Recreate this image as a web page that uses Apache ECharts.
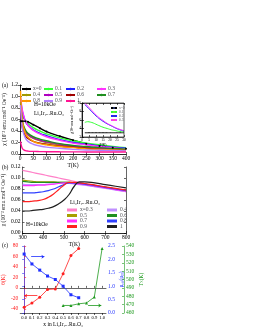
<!DOCTYPE html>
<html><head><meta charset="utf-8">
<script src="https://cdn.jsdelivr.net/npm/echarts@6/dist/echarts.min.js"></script>
<style>html,body{margin:0;padding:0;background:#fff}#c{width:255px;height:330px}</style>
</head><body><div id="c"></div>
<script>
// ---------- Panel (a): chi vs T (0-400 K) ----------
const tA = [2,5,10,20,30,50,75,100,150,200,250,300,350,400];
const chiA_00 = [0.57,0.57,0.57,0.57,0.56,0.51,0.45,0.39,0.31,0.24,0.18,0.14,0.11,0.09];
const chiA_01 = [0.72,0.70,0.66,0.58,0.53,0.46,0.40,0.35,0.28,0.23,0.19,0.16,0.13,0.11];
const chiA_02 = [0.95,0.85,0.72,0.57,0.50,0.42,0.36,0.32,0.25,0.20,0.17,0.14,0.12,0.10];
const chiA_03 = [0.98,0.88,0.74,0.58,0.50,0.41,0.35,0.30,0.24,0.19,0.16,0.13,0.11,0.09];
const chiA_04 = [0.80,0.65,0.50,0.38,0.33,0.27,0.23,0.20,0.16,0.13,0.11,0.095,0.08,0.07];
const chiA_05 = [0.85,0.68,0.52,0.40,0.34,0.28,0.24,0.21,0.17,0.14,0.12,0.10,0.085,0.075];
const chiA_06 = [0.75,0.58,0.43,0.32,0.27,0.22,0.19,0.17,0.14,0.12,0.10,0.085,0.075,0.065];
const chiA_07 = [0.90,0.72,0.55,0.42,0.36,0.30,0.26,0.23,0.18,0.15,0.13,0.11,0.095,0.085];
const chiA_08 = [1.10,0.80,0.55,0.36,0.29,0.22,0.18,0.16,0.13,0.11,0.09,0.08,0.07,0.06];
const chiA_09 = [0.85,0.62,0.42,0.28,0.22,0.17,0.14,0.12,0.10,0.08,0.07,0.065,0.06,0.055];
const chiA_10 = [0.22,0.15,0.09,0.06,0.05,0.045,0.042,0.04,0.038,0.037,0.036,0.035,0.035,0.035];
const namesA = ['x=0','0.1','0.2','0.3','0.4','0.5','0.6','0.7','0.8','0.9','1'];

// inset of (a)
const tIn = [2,4,6,8,10,12,15,18,21,24,27,30];
const inset_00 = [3.0,3.0,3.0,3.0,3.0,3.0,3.0,3.0,3.0,3.0,3.0,3.0];
const inset_01 = [5.4,5.6,5.5,5.3,5.0,4.7,4.3,4.0,3.7,3.5,3.3,3.2];
const inset_02 = [9.6,9.0,8.3,7.6,7.0,6.4,5.7,5.1,4.6,4.1,3.7,3.4];
const inset_03 = [10.0,9.3,8.6,7.9,7.2,6.6,5.9,5.2,4.7,4.2,3.8,3.5];

// ---------- Panel (b): chi vs T (300-800 K) ----------
const tB = [300,325,350,375,400,425,450,475,500,525,550,575,600,650,700,750,800];
const chiB_03 = [0.114,0.112,0.110,0.108,0.106,0.104,0.102,0.100,0.098,0.096,0.094,0.092,0.090,0.087,0.083,0.079,0.075];
const chiB_04 = [0.089,0.088,0.088,0.088,0.088,0.089,0.089,0.090,0.090,0.090,0.089,0.088,0.087,0.084,0.081,0.078,0.075];
const chiB_05 = [0.096,0.095,0.094,0.093,0.093,0.093,0.093,0.092,0.092,0.092,0.091,0.090,0.089,0.086,0.083,0.080,0.077];
const chiB_06 = [0.094,0.093,0.092,0.092,0.092,0.092,0.092,0.092,0.092,0.092,0.091,0.090,0.089,0.086,0.083,0.080,0.077];
const chiB_07 = [0.086,0.086,0.086,0.087,0.087,0.088,0.089,0.090,0.091,0.091,0.090,0.089,0.088,0.085,0.082,0.079,0.076];
const chiB_08 = [0.073,0.073,0.073,0.074,0.075,0.077,0.080,0.084,0.088,0.091,0.091,0.090,0.089,0.086,0.083,0.080,0.077];
const chiB_09 = [0.057,0.057,0.058,0.059,0.061,0.065,0.071,0.079,0.087,0.092,0.092,0.091,0.090,0.087,0.084,0.081,0.078];
const chiB_10 = [0.040,0.040,0.041,0.042,0.043,0.045,0.048,0.053,0.060,0.070,0.085,0.093,0.093,0.091,0.088,0.085,0.082];
const namesB = ['x=0.3','0.4','0.5','0.6','0.7','0.8','0.9','1'];

// ---------- Panel (c): parameters vs x ----------
const xC = [0.0,0.1,0.2,0.3,0.4,0.5,0.6,0.7,0.8,0.9,1.0];
const thetaC = [-37,-29,-18,-3,-2,27,62,75,null,null,null];
const muC = [2.2,1.83,1.6,1.38,1.25,1.0,0.68,0.57,null,null,null];
const tnC = [null,null,null,null,null,469,469,471,472,479,537];
const xTicksC = [0.0,0.1,0.2,0.3,0.4,0.5,0.6,0.7,0.8,0.9,1.0];
const thetaTicks = [-40,-20,0,20,40,60,80];

// ---------- build ----------
const FF = '"Liberation Serif","Times New Roman",serif';
const FS = 5.5;
const chart = echarts.init(document.getElementById('c'));

function lbl(extra){ return Object.assign({fontFamily:FF,fontSize:FS,color:'#000',margin:2}, extra||{}); }
function mirror(type, gi, pos, extra){
  return Object.assign({type:'value', gridIndex:gi, position:pos, axisLine:{show:true,lineStyle:{color:'#000',width:0.6}},
    axisTick:{show:true,inside:true,length:2,lineStyle:{width:0.6}}, axisLabel:{show:false}, splitLine:{show:false}}, extra||{});
}
function subRich(color){
  return {fontFamily:FF, fontSize:FS, color:color,
    rich:{a:{fontFamily:FF,fontSize:FS,color:color}, s:{fontFamily:FF,fontSize:3.8,color:color,verticalAlign:'bottom',padding:[2,0,0,0]}}};
}

const colorsA = ['#000000','#33ff33','#2020ff','#ff33ff','#a09a00','#b000c0','#a00000','#208f20','#ff9900','#b080ff','#ff1493'];
const dataA = [chiA_00,chiA_01,chiA_02,chiA_03,chiA_04,chiA_05,chiA_06,chiA_07,chiA_08,chiA_09,chiA_10];
const colorsB = ['#ff80c8','#c090ff','#a8a000','#209020','#ff30ff','#3040ff','#ff2020','#202020'];
const dataB = [chiB_03,chiB_04,chiB_05,chiB_06,chiB_07,chiB_08,chiB_09,chiB_10];
const insetData = [inset_00,inset_01,inset_02,inset_03];

const series = [];
dataA.forEach((d,i)=>{
  series.push({name:'a'+namesA[i], type:'line', xAxisIndex:0, yAxisIndex:0, smooth:true,
    data:tA.map((t,j)=>[t,d[j]]), symbol: i===0?'circle':'none', symbolSize:2, showSymbol:i===0,
    lineStyle:{width:1.4,color:colorsA[i]}, itemStyle:{color:colorsA[i]}, z:1});
});
insetData.forEach((d,i)=>{
  series.push({name:'i'+namesA[i], type:'line', xAxisIndex:2, yAxisIndex:2, smooth:true,
    data:tIn.map((t,j)=>[t,d[j]]), symbol:'none', lineStyle:{width:1,color:colorsA[i]}, z:5});
});
dataB.forEach((d,i)=>{
  series.push({name:'b'+namesB[i], type:'line', xAxisIndex:4, yAxisIndex:4, smooth:true,
    data:tB.map((t,j)=>[t,d[j]]), symbol:'none', lineStyle:{width:1.2,color:colorsB[i]}, itemStyle:{color:colorsB[i]}, z:2});
});
const red='#ff2020', blue='#2030ff', green='#1f9a1f';
series.push({name:'theta', type:'line', xAxisIndex:6, yAxisIndex:6, data:xC.map((x,j)=>[x,thetaC[j]]).filter(p=>p[1]!==null),
  symbol:'circle', symbolSize:3, lineStyle:{width:0.8,color:red}, itemStyle:{color:red},
  markLine:{silent:true, symbol:['arrow','none'], symbolSize:3, lineStyle:{color:red,width:0.8,type:'solid'}, label:{show:false},
    data:[[{coord:[0.0,-15]},{coord:[0.17,-15]}]]}});
series.push({name:'mu', type:'line', xAxisIndex:6, yAxisIndex:7, data:xC.map((x,j)=>[x,muC[j]]).filter(p=>p[1]!==null),
  symbol:'rect', symbolSize:3, lineStyle:{width:0.8,color:blue}, itemStyle:{color:blue},
  markLine:{silent:true, symbol:['none','arrow'], symbolSize:3, lineStyle:{color:blue,width:0.8,type:'solid'}, label:{show:false},
    data:[[{coord:[0.09,2.1]},{coord:[0.26,2.1]}]]}});
series.push({name:'tn', type:'line', xAxisIndex:6, yAxisIndex:8, data:xC.map((x,j)=>[x,tnC[j]]).filter(p=>p[1]!==null),
  symbol:'triangle', symbolSize:3, lineStyle:{width:0.8,color:green}, itemStyle:{color:green},
  markLine:{silent:true, symbol:['none','arrow'], symbolSize:3, lineStyle:{color:green,width:0.8,type:'solid'}, label:{show:false},
    data:[[{coord:[0.82,469]},{coord:[0.99,469]}]]}});

// legends
const legends = [];
const colLeftA = [21,43,65,96], rowTopA = [86,92,98];
namesA.forEach((n,i)=>{
  legends.push({data:['a'+n], left:colLeftA[i%4], top:rowTopA[Math.floor(i/4)], itemWidth:9, itemHeight:3, itemGap:0,
    padding:0, formatter:s=>s.slice(1), textStyle:{fontFamily:FF,fontSize:FS,padding:[0,0,0,-3]}});
});
const colLeftIn = 110, rowTopIn = [106,110,114,118];
['x=0','0.1','0.2','0.3'].forEach((n,i)=>{
  legends.push({data:['i'+n], left:colLeftIn, top:rowTopIn[i], itemWidth:6, itemHeight:2, padding:0, z:6,
    formatter:s=>s.slice(1), textStyle:{fontFamily:FF,fontSize:3.5,padding:[0,0,0,-3]}});
});
const colLeftB = [67,107], rowTopB = [207,212.5,218,223.5];
namesB.forEach((n,i)=>{
  legends.push({data:[{name:'b'+n, icon:'rect'}], left:colLeftB[i%2], top:rowTopB[Math.floor(i/2)], itemWidth:10, itemHeight:3, padding:0,
    formatter:s=>s.slice(1), textStyle:{fontFamily:FF,fontSize:FS,padding:[0,0,0,-2]}});
});

const option = {
  animation:false, backgroundColor:'#fff',
  textStyle:{fontFamily:FF},
  grid:[
    {left:20, top:85, width:106, height:69},
    {left:82, top:103, width:42, height:34, show:true, backgroundColor:'#fff', borderWidth:0, z:4},
    {left:20, top:167, width:106, height:66},
    {left:19, top:246, width:87, height:67}
  ],
  xAxis:[
    mirror('value',0,'bottom',{min:0,max:400,interval:50, axisLabel:lbl(),
      name:'T(K)', nameLocation:'middle', nameGap:7, nameTextStyle:{fontFamily:FF,fontSize:FS}}),
    mirror('value',0,'top',{min:0,max:400,interval:50}),
    mirror('value',1,'bottom',{min:0,max:30,interval:5, axisLabel:lbl({fontSize:3.5,margin:1}), z:5,
      name:'T(K)', nameLocation:'middle', nameGap:4.5, nameTextStyle:{fontFamily:FF,fontSize:3.5}}),
    mirror('value',1,'top',{min:0,max:30,interval:5, z:5}),
    mirror('value',2,'bottom',{min:300,max:800,interval:100, axisLabel:lbl(),
      name:'T(K)', nameLocation:'middle', nameGap:7, nameTextStyle:{fontFamily:FF,fontSize:FS}}),
    mirror('value',2,'top',{min:300,max:800,interval:100}),
    mirror('value',3,'bottom',{min:-0.05,max:1.05, axisLabel:lbl({fontSize:4.6,margin:2,customValues:xTicksC, formatter:v=>v.toFixed(1)}),
      axisTick:{show:true,inside:true,length:2,customValues:xTicksC,lineStyle:{width:0.6}},
      name:'x in Li\u2082Ir\u2081\u208B\u2093Ru\u2093O\u2083', nameLocation:'middle', nameGap:9, nameTextStyle:{fontFamily:FF,fontSize:FS}}),
    mirror('value',3,'top',{min:-0.05,max:1.05, axisTick:{show:true,inside:true,length:2,customValues:xTicksC,lineStyle:{width:0.6}}})
  ],
  yAxis:[
    mirror('value',0,'left',{min:0,max:1.2,interval:0.2, axisLabel:lbl({formatter:v=>v.toFixed(1)}),
      name:'\u03C7 (10\u207B\u00B3 emu mol\u207B\u00B9 Oe\u207B\u00B9)', nameLocation:'middle', nameGap:10, nameTextStyle:{fontFamily:FF,fontSize:FS}}),
    mirror('value',0,'right',{min:0,max:1.2,interval:0.2}),
    mirror('value',1,'left',{min:2,max:10,interval:2, axisLabel:lbl({fontSize:3.5,margin:1}), z:5,
      name:'\u03C7(10\u207B\u00B3 emu mol\u207B\u00B9 Oe\u207B\u00B9)', nameLocation:'middle', nameGap:5, nameTextStyle:{fontFamily:FF,fontSize:3}}),
    mirror('value',1,'right',{min:2,max:10,interval:2, z:5}),
    mirror('value',2,'left',{min:0,max:0.12,interval:0.02, axisLabel:lbl({formatter:v=>v.toFixed(2)}),
      name:'\u03C7 (10\u207B\u00B3 emu mol\u207B\u00B9 Oe\u207B\u00B9)', nameLocation:'middle', nameGap:12, nameTextStyle:{fontFamily:FF,fontSize:FS}}),
    mirror('value',2,'right',{min:0,max:0.12,interval:0.02}),
    mirror('value',3,'left',{min:-48,max:80, axisLine:{show:true,lineStyle:{color:red,width:0.6}},
      axisLabel:lbl({color:red, customValues:thetaTicks}),
      axisTick:{show:true,inside:true,length:2,customValues:thetaTicks,lineStyle:{width:0.6,color:red}},
      name:'\u03B8(K)', nameLocation:'middle', nameGap:11, nameTextStyle:{fontFamily:FF,fontSize:FS,color:red}}),
    mirror('value',3,'right',{min:0,max:2.5,interval:0.5, axisLine:{show:true,lineStyle:{color:blue,width:0.6}},
      axisTick:{show:true,inside:true,length:2,lineStyle:{width:0.6,color:blue}},
      axisLabel:lbl({color:blue, formatter:v=>v.toFixed(1)}),
      name:'{a|\u03BC}{s|eff}{a|(\u03BC}{s|B}{a|)}', nameLocation:'middle', nameGap:11, nameTextStyle:subRich(blue)}),
    mirror('value',3,'right',{min:460,max:540,interval:10, offset:18, axisLine:{show:true,lineStyle:{color:green,width:0.6}},
      axisTick:{show:true,inside:true,length:2,lineStyle:{width:0.6,color:green}},
      axisLabel:lbl({color:green}),
      name:'{a|T}{s|N}{a|(K)}', nameLocation:'middle', nameGap:12, nameTextStyle:subRich(green)})
  ],
  legend: legends,
  graphic:[
    {type:'rect', shape:{x:82,y:103,width:42,height:34}, style:{fill:'none',stroke:'#000',lineWidth:0.6}, z:6},
    {type:'text', left:2, top:83, style:{text:'(a)', font:'5.5px '+FF, fill:'#000'}},
    {type:'text', left:2, top:165, style:{text:'(b)', font:'5.5px '+FF, fill:'#000'}},
    {type:'text', left:2, top:243, style:{text:'(c)', font:'5.5px '+FF, fill:'#000'}},
    {type:'text', left:34, top:102, style:{text:'H=10kOe', font:'5.5px '+FF, fill:'#000'}},
    {type:'text', left:34, top:111, style:{text:'Li\u2082Ir\u2081\u208B\u2093Ru\u2093O\u2083', font:'5.5px '+FF, fill:'#000'}},
    {type:'text', left:70, top:200, style:{text:'Li\u2082Ir\u2081\u208B\u2093Ru\u2093O\u2083', font:'5.5px '+FF, fill:'#000'}},
    {type:'text', left:26, top:222, style:{text:'H=10kOe', font:'5.5px '+FF, fill:'#000'}}
  ],
  series: series
};
chart.setOption(option);
</script></body></html>
